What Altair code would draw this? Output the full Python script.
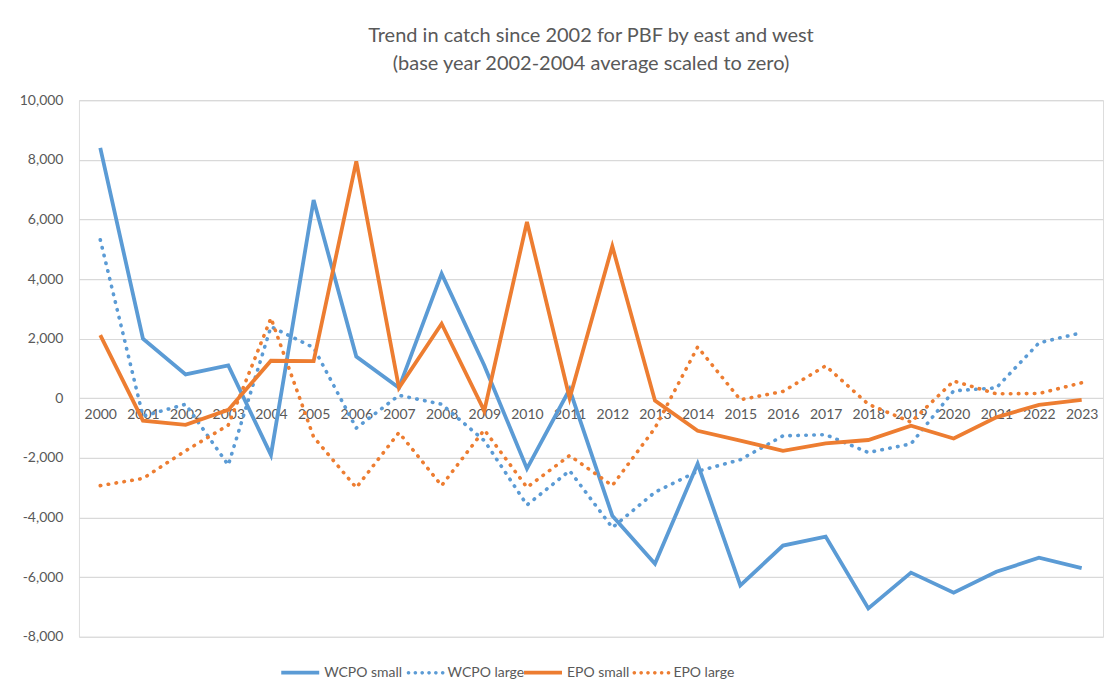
import altair as alt
import pandas as pd

years = list(range(2000, 2024))

wcpo_small = [8400, 2000, 800, 1100, -1900, 6650, 1400, 350, 4180, 1100, -2360, 300,
              -3940, -5550, -2200, -6280, -4940, -4640, -7050, -5850, -6520, -5820, -5350, -5700]
wcpo_large = [5320, -600, -200, -2240, 2400, 1700, -1000, 100, -200, -1420, -3580, -2430,
              -4340, -3150, -2450, -2060, -1260, -1220, -1820, -1530, 250, 350, 1860, 2200]
epo_small = [2120, -750, -890, -390, 1260, 1250, 7950, 350, 2500, -420, 5920, 0,
             5100, -80, -1090, -1420, -1760, -1510, -1400, -920, -1350, -640, -220, -50]
epo_large = [-2930, -2690, -1760, -900, 2690, -1300, -3000, -1150, -2930, -1060, -2990, -1920,
             -2930, -1000, 1720, -50, 230, 1090, -200, -800, 580, 150, 160, 520]

series_names = ["WCPO small", "WCPO large", "EPO small", "EPO large"]
series_values = [wcpo_small, wcpo_large, epo_small, epo_large]
series_colors = ["#5B9BD5", "#5B9BD5", "#ED7D31", "#ED7D31"]
series_dotted = [False, True, False, True]
legend_x = [200.5, 328, 443.5, 554]

y_ticks = list(range(-8000, 10001, 2000))

FONT = "Lato"
TXT = "#595959"

# dotted legend glyph: small filled circles along a horizontal line (unit coordinates)
dot_r = 0.095
dot_centers = [-0.9, -0.54, -0.18, 0.18, 0.54, 0.9]
DOT_PATH = " ".join(
    f"M{c - dot_r:.3f},0 a{dot_r},{dot_r} 0 1,0 {2 * dot_r:.3f},0 "
    f"a{dot_r},{dot_r} 0 1,0 {-2 * dot_r:.3f},0 Z"
    for c in dot_centers
)

x_enc = alt.X("year:O", title=None,
              scale=alt.Scale(type="point", padding=0.5),
              axis=alt.Axis(offset=-238.5, domain=False, ticks=False, labelAngle=0,
                            labelPadding=9.5, labelFontSize=14, labelColor=TXT, labelFont=FONT,
                            grid=False))
y_enc = alt.Y("value:Q", title=None,
              scale=alt.Scale(domain=[-8000, 10000], nice=False, zero=False),
              axis=alt.Axis(values=y_ticks, domain=False, ticks=False, grid=True,
                            gridColor="#D9D9D9", gridWidth=1.2,
                            labelPadding=16, labelFontSize=14, labelColor=TXT, labelFont=FONT,
                            labelExpr="replace(format(datum.value, ',.0f'), '\u2212', '-')"))

layers = []
for name, vals, col, dotted, lx in zip(series_names, series_values, series_colors,
                                       series_dotted, legend_x):
    d = pd.DataFrame({"year": [str(y) for y in years], "value": vals, "series": name})
    if dotted:
        mark = alt.Chart(d).mark_line(strokeWidth=3.6, strokeCap="round",
                                      strokeJoin="round", strokeDash=[0.5, 7.5])
        leg = alt.Legend(orient="none", legendX=lx, legendY=554,
                         symbolType=DOT_PATH, symbolSize=1444,
                         symbolStrokeWidth=0, symbolFillColor=col, labelFontSize=14,
                         labelColor=TXT, labelFont=FONT, labelOffset=3)
    else:
        mark = alt.Chart(d).mark_line(strokeWidth=3.8, strokeCap="butt", strokeJoin="miter")
        leg = alt.Legend(orient="none", legendX=lx, legendY=552,
                         symbolType="stroke", symbolSize=1444,
                         symbolStrokeWidth=3.8, labelFontSize=14,
                         labelColor=TXT, labelFont=FONT, labelOffset=3)
    layers.append(mark.encode(
        x=x_enc,
        y=y_enc,
        color=alt.Color("series:N", title=None,
                        scale=alt.Scale(domain=[name], range=[col]),
                        legend=leg),
        order=alt.Order("year:O"),
    ))

chart = alt.layer(*layers).resolve_scale(color="independent").properties(
    width=1025,
    height=537,
    padding={"top": 18, "left": 11, "right": 5, "bottom": 5},
    title=alt.TitleParams(
        text=["Trend in catch since 2002 for PBF by east and west",
              "(base year 2002-2004 average scaled to zero)"],
        fontSize=20, font=FONT, fontWeight="normal", color=TXT,
        anchor="middle", lineHeight=28, offset=19),
).configure_view(stroke=None).configure(background="white")

chart.save("out.html", embed_options={"renderer": "svg", "actions": False})
